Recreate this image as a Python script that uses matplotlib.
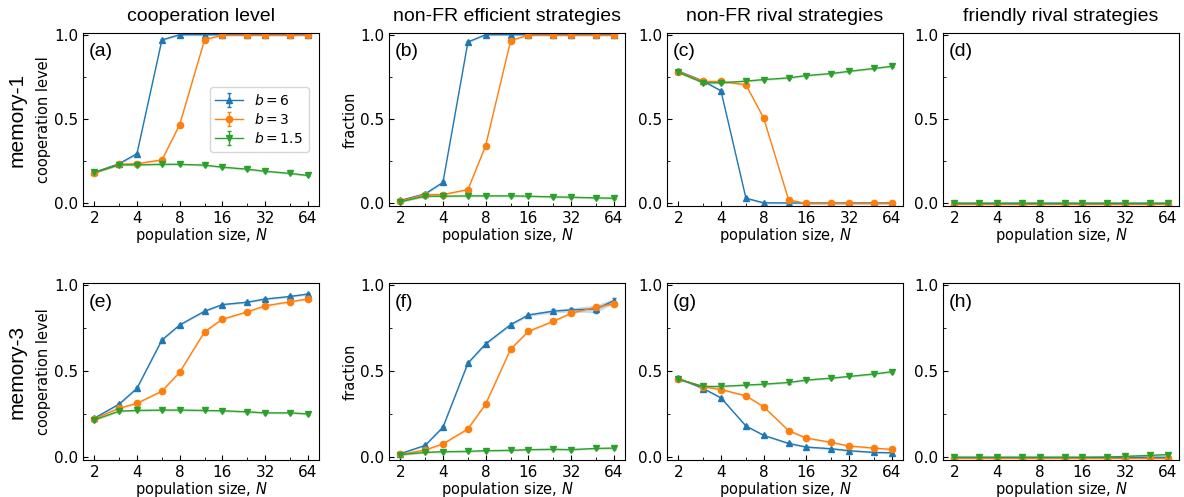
import matplotlib
matplotlib.use("Agg")
import matplotlib.pyplot as plt
import numpy as np
from matplotlib.ticker import FixedLocator, NullFormatter

# ---------------- data ----------------
N = [2, 3, 4, 6, 8, 12, 16, 24, 32, 48, 64]
b_labels = ["$b=6$", "$b=3$", "$b=1.5$"]
colors = ["#1f77b4", "#ff7f0e", "#2ca02c"]
markers = ["^", "o", "v"]

col_titles = ["cooperation level", "non-FR efficient strategies",
              "non-FR rival strategies", "friendly rival strategies"]
row_labels = ["memory-1", "memory-3"]
panel_tags = ["(a)", "(b)", "(c)", "(d)", "(e)", "(f)", "(g)", "(h)"]
y_labels = ["cooperation level", "fraction", "", ""]

# memory-1
a_b6 = [0.184, 0.236, 0.295, 0.969, 1.0, 1.0, 1.0, 1.0, 1.0, 1.0, 1.0]
a_b3 = [0.180, 0.232, 0.236, 0.258, 0.467, 0.971, 0.997, 0.997, 0.997, 0.997, 0.997]
a_b15 = [0.184, 0.229, 0.229, 0.232, 0.232, 0.227, 0.215, 0.203, 0.191, 0.178, 0.166]

b_b6 = [0.018, 0.057, 0.125, 0.957, 1.0, 1.0, 1.0, 1.0, 1.0, 1.0, 1.0]
b_b3 = [0.014, 0.053, 0.053, 0.082, 0.343, 0.965, 0.997, 0.997, 0.997, 0.997, 0.997]
b_b15 = [0.010, 0.043, 0.043, 0.045, 0.045, 0.045, 0.043, 0.039, 0.037, 0.033, 0.031]

c_b6 = [0.785, 0.725, 0.668, 0.031, 0.004, 0.003, 0.003, 0.003, 0.003, 0.003, 0.003]
c_b3 = [0.781, 0.723, 0.723, 0.703, 0.506, 0.021, 0.0, 0.0, 0.0, 0.0, 0.0]
c_b15 = [0.777, 0.715, 0.715, 0.725, 0.734, 0.744, 0.758, 0.770, 0.783, 0.800, 0.813]

d_b6 = [0.003] * 11
d_b3 = [-0.002] * 11
d_b15 = [0.0] * 11

# memory-3
e_b6 = [0.227, 0.309, 0.400, 0.680, 0.767, 0.847, 0.885, 0.899, 0.917, 0.932, 0.946]
e_b3 = [0.223, 0.285, 0.313, 0.384, 0.493, 0.728, 0.800, 0.843, 0.878, 0.901, 0.918]
e_b15 = [0.217, 0.268, 0.272, 0.274, 0.274, 0.272, 0.270, 0.264, 0.258, 0.258, 0.252]

f_b6 = [0.021, 0.070, 0.175, 0.546, 0.658, 0.769, 0.825, 0.847, 0.854, 0.860, 0.907]
f_b3 = [0.017, 0.043, 0.078, 0.165, 0.309, 0.627, 0.730, 0.788, 0.835, 0.870, 0.890]
f_b15 = [0.016, 0.029, 0.033, 0.035, 0.039, 0.041, 0.045, 0.047, 0.045, 0.052, 0.054]

g_b6 = [0.459, 0.399, 0.345, 0.182, 0.128, 0.081, 0.060, 0.050, 0.039, 0.029, 0.027]
g_b3 = [0.455, 0.409, 0.393, 0.357, 0.293, 0.155, 0.112, 0.087, 0.066, 0.054, 0.046]
g_b15 = [0.452, 0.411, 0.411, 0.419, 0.424, 0.434, 0.448, 0.459, 0.469, 0.483, 0.496]

h_b6 = [0.003, 0.003, 0.003, 0.003, 0.003, 0.003, 0.003, 0.003, 0.003, 0.003, 0.003]
h_b3 = [-0.002, -0.002, -0.002, -0.002, -0.002, -0.002, -0.002, -0.002, -0.002, -0.002, -0.002]
h_b15 = [0.0, 0.0, 0.0, 0.0, 0.0, 0.0, 0.0, 0.002, 0.006, 0.012, 0.016]

# standard errors (mostly tiny)
err_small = [0.006] * 11
f_b6_err = [0.004, 0.005, 0.006, 0.008, 0.008, 0.008, 0.008, 0.010, 0.012, 0.022, 0.015]

panels = [
    [a_b6, a_b3, a_b15], [b_b6, b_b3, b_b15], [c_b6, c_b3, c_b15], [d_b6, d_b3, d_b15],
    [e_b6, e_b3, e_b15], [f_b6, f_b3, f_b15], [g_b6, g_b3, g_b15], [h_b6, h_b3, h_b15],
]
panel_errs = [[err_small, err_small, err_small] for _ in range(8)]
panel_errs[5][0] = f_b6_err

# ---------------- figure ----------------
W, H = 1184, 497
fig = plt.figure(figsize=(W / 100, H / 100), dpi=100)

col_left = [83, 389, 667, 943]
ax_w = 236
row_top = [33, 283]
row_h = [173, 177]

title_font = ["Liberation Sans", "DejaVu Sans"]

axes = []
for r in range(2):
    for c in range(4):
        rect = [col_left[c] / W, 1 - (row_top[r] + row_h[r]) / H, ax_w / W, row_h[r] / H]
        ax = fig.add_axes(rect)
        axes.append(ax)
        idx = r * 4 + c
        for k in range(3):
            y = np.array(panels[idx][k])
            e = np.array(panel_errs[idx][k])
            ax.fill_between(N, y - e, y + e, color=colors[k], alpha=0.25, lw=0)
            ax.errorbar(N, y, yerr=e, color=colors[k], marker=markers[k],
                        ms=4.5, lw=1.0, elinewidth=1.0, capsize=1.5,
                        label=b_labels[k])
        ax.set_xscale("log", base=2)
        ax.set_xlim(2 / 1.2, 64 * 1.2)
        ax.set_ylim(-0.015, 1.01)
        ax.xaxis.set_major_locator(FixedLocator([2, 4, 8, 16, 32, 64]))
        ax.xaxis.set_minor_locator(FixedLocator([3, 6, 12, 24, 48]))
        ax.xaxis.set_minor_formatter(NullFormatter())
        ax.set_xticklabels(["2", "4", "8", "16", "32", "64"])
        ax.set_yticks([0.0, 0.5, 1.0])
        ax.set_yticklabels(["0.0", "0.5", "1.0"])
        ax.yaxis.set_minor_locator(FixedLocator([0.25, 0.75]))
        ax.tick_params(axis="both", which="both", direction="in", labelsize=11)
        ax.tick_params(axis="both", which="major", length=3.5)
        ax.tick_params(axis="both", which="minor", length=2)
        ax.set_xlabel("population size, $N$", fontsize=10.5, labelpad=0)
        if y_labels[c]:
            ax.set_ylabel(y_labels[c], fontsize=10.5, labelpad=2)
        ax.text(0.025, 0.94, panel_tags[idx], transform=ax.transAxes,
                ha="left", va="top", fontsize=14, family=title_font)
        if r == 0:
            ax.set_title(col_titles[c], fontsize=14, family=title_font, pad=9)
        if idx == 0:
            ax.legend(loc="center right", fontsize=10, handlelength=2.0,
                      borderpad=0.4, labelspacing=0.3, handletextpad=0.8,
                      bbox_to_anchor=(0.985, 0.5))

for r in range(2):
    yc = 1 - (row_top[r] + row_h[r] / 2) / H
    fig.text(17 / W, yc, row_labels[r], rotation=90, ha="center", va="center",
             fontsize=15, family=title_font)

fig.savefig("out.png", dpi=100)
